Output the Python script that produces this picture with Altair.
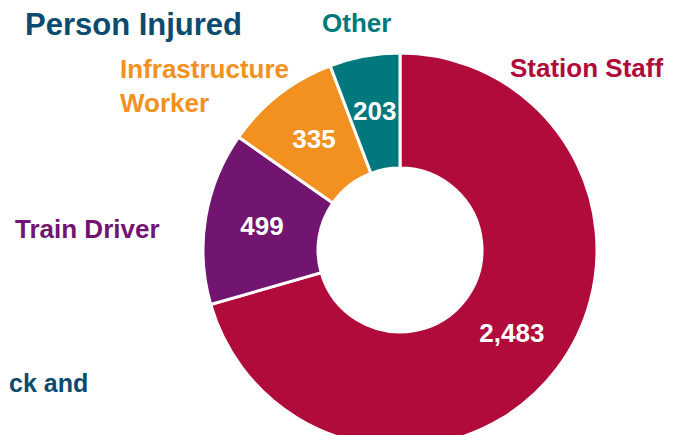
import altair as alt
import pandas as pd

categories = ["Station Staff", "Train Driver", "Infrastructure Worker", "Other"]
values = [2483, 499, 335, 203]
colors = ["#B00B3A", "#711570", "#F29120", "#00787E"]
title_text = "Person Injured"
footer_text = "ck and"
TITLE_COLOR = "#0C4A6E"
FONT = "Liberation Sans"

df = pd.DataFrame({
    "category": categories,
    "value": values,
    "order": list(range(len(categories))),
})

CX, CY = 392, 242
R_OUT, R_IN = 197, 82

color_scale = alt.Scale(domain=categories, range=colors)

base = alt.Chart(df).encode(
    theta=alt.Theta("value:Q", stack=True),
    order=alt.Order("order:Q"),
)

arcs = base.mark_arc(radius=R_OUT, radius2=R_IN, stroke="white", strokeWidth=3).encode(
    x=alt.value(CX), y=alt.value(CY),
    color=alt.Color("category:N", scale=color_scale, legend=None),
)

vals = base.mark_text(radius=140, font=FONT, fontSize=26, fontWeight="bold",
                      color="white", align="center", baseline="middle").encode(
    x=alt.value(CX), y=alt.value(CY),
    text=alt.Text("value:Q", format=","),
)

def label(txt, x, y, color, size=26, align="left"):
    return alt.Chart(pd.DataFrame({"t": [txt]})).mark_text(
        font=FONT, fontSize=size, fontWeight="bold", color=color,
        align=align, baseline="alphabetic", lineHeight=34,
    ).encode(text="t:N", x=alt.value(x), y=alt.value(y))

annotations = [
    label(title_text, 17, 27, TITLE_COLOR, size=31),
    label(footer_text, 1, 384, TITLE_COLOR, size=25),
    label(categories[0], 502, 69, colors[0]),
    label(categories[3], 314, 24, colors[3]),
    alt.Chart(pd.DataFrame({"t": [["Infrastructure", "Worker"]]})).mark_text(
        font=FONT, fontSize=26, fontWeight="bold", color=colors[2],
        align="left", baseline="alphabetic", lineHeight=34,
    ).encode(text="t", x=alt.value(112), y=alt.value(70)),
    label(categories[1], 7, 230, colors[1]),
]

chart = alt.layer(arcs, vals, *annotations).properties(
    width=668, height=427,
    autosize=alt.AutoSizeParams(type="none"),
    padding=0,
).configure_view(stroke=None)

chart.save("out.html", embed_options={"renderer": "svg", "actions": False})
